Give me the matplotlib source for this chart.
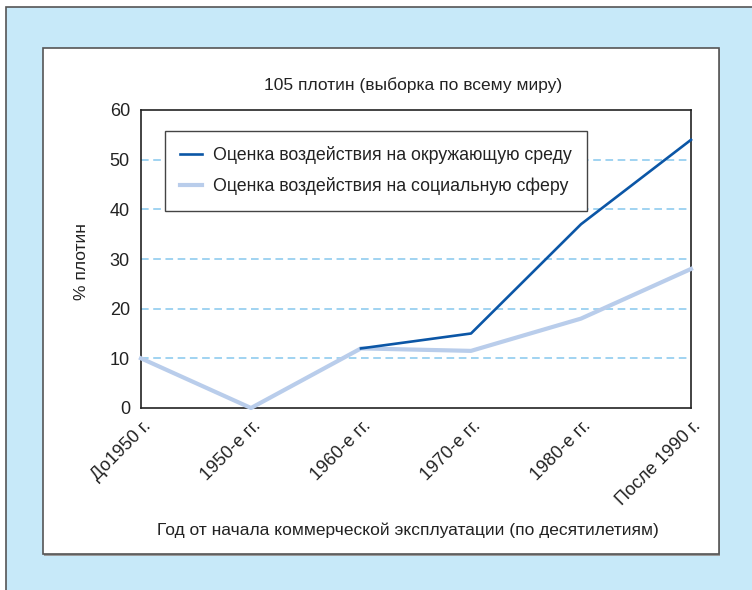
import numpy as np
import matplotlib
matplotlib.use('Agg')
import matplotlib.pyplot as plt
import matplotlib.transforms as mtransforms
from matplotlib.patches import Rectangle

# data
categories = ['До1950 г.', '1950-е гг.', '1960-е гг.', '1970-е гг.', '1980-е гг.', 'После 1990 г.']
env_values = [np.nan, np.nan, 12, 15, 37, 54]
social_values = [10, 0, 12, 11.5, 18, 28]
env_label = 'Оценка воздействия на окружающую среду'
social_label = 'Оценка воздействия на социальную сферу'
yticks = [0, 10, 20, 30, 40, 50, 60]

plt.rcParams['font.family'] = ['Liberation Sans', 'DejaVu Sans']
fs = 12.5
plt.rcParams['font.size'] = fs
txt_color = '#222222'

fig = plt.figure(figsize=(7.52, 5.90), dpi=100)
fig.patch.set_facecolor('white')

# light blue outer frame and white inner panel
fig.patches.append(Rectangle((6 / 752, -0.1), 1.1, 1.1 - 7 / 590, transform=fig.transFigure,
                             facecolor='#c7e9f9', edgecolor='#555555', lw=1.2, zorder=0))
fig.patches.append(Rectangle((44 / 752, 1 - 556 / 590), 676 / 752, 507 / 590, transform=fig.transFigure,
                             facecolor='#9a9a9a', edgecolor='none', zorder=0.5))
fig.patches.append(Rectangle((43 / 752, 1 - 554 / 590), 676 / 752, 506 / 590, transform=fig.transFigure,
                             facecolor='white', edgecolor='#555555', lw=1.2, zorder=1))

ax = fig.add_axes([141 / 752, 1 - 408 / 590, 550 / 752, 298 / 590])
ax.set_facecolor('white')
ax.set_zorder(2)

x = np.arange(len(categories))
for v in yticks[1:-1]:
    ax.axhline(v, color='#86c7ee', lw=1.1, ls=(0, (5, 3)), zorder=1)

ax.plot(x, social_values, color='#b9cdeb', lw=3.0, label=social_label, zorder=3, clip_on=False)
ax.plot(x, env_values, color='#0b56a6', lw=1.9, label=env_label, zorder=4, clip_on=False)

ax.set_xlim(0, 5)
ax.set_ylim(0, 60)
ax.set_yticks(yticks)
ax.set_xticks(x)
ax.set_xticklabels(categories, rotation=45, ha='right', va='center', rotation_mode='anchor')
ax.tick_params(length=0, colors=txt_color, labelsize=fs + 0.5)
ax.tick_params(axis='y', pad=8)
ax.tick_params(axis='x', pad=13)
shift = mtransforms.ScaledTranslation(0.07, 0.03, fig.dpi_scale_trans)
for lab in ax.get_xticklabels():
    lab.set_transform(lab.get_transform() + shift)
for s in ax.spines.values():
    s.set_color('#222222')
    s.set_linewidth(1.2)

handles, labels = ax.get_legend_handles_labels()
leg = ax.legend(handles[::-1], labels[::-1], loc='upper left', bbox_to_anchor=(0.0436, 0.9295),
                borderaxespad=0, frameon=True, fancybox=False, framealpha=1, edgecolor='#444444',
                handlelength=1.25, handletextpad=0.62, borderpad=0.85, labelspacing=0.75, fontsize=12.8)
leg.get_frame().set_linewidth(1.0)
for t in leg.get_texts():
    t.set_color(txt_color)

fig.text(413 / 752, 1 - 85 / 590, '105 плотин (выборка по всему миру)', ha='center', va='center',
         color=txt_color, fontsize=fs)
fig.text(408 / 752, 1 - 530 / 590, 'Год от начала коммерческой эксплуатации (по десятилетиям)',
         ha='center', va='center', color=txt_color, fontsize=fs)
fig.text(82 / 752, 1 - 262 / 590, '% плотин', ha='center', va='center', rotation=90,
         color=txt_color, fontsize=fs)

fig.savefig('out.png', dpi=100)
